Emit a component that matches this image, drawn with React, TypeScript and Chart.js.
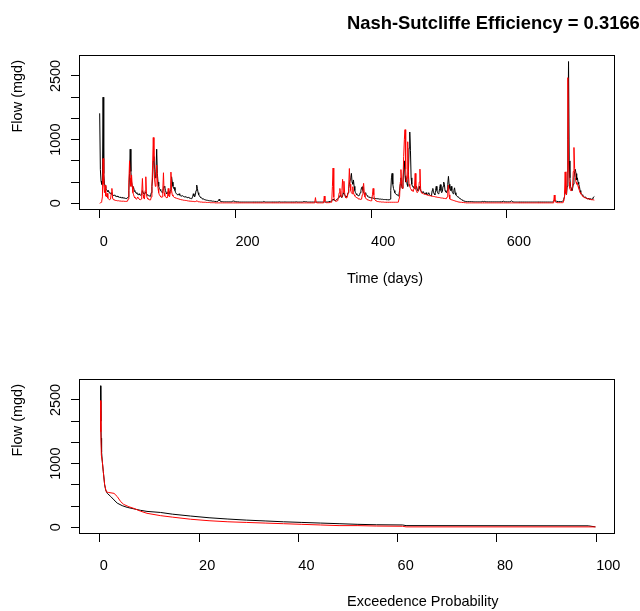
import React, { useEffect, useRef } from "react";
import { Chart, registerables } from "chart.js";

Chart.register(...registerables);

const FONT_FAMILY = "'Liberation Sans', Arial, Helvetica, sans-serif";
const TEXT_SIZE = 14.5;
const TITLE_SIZE = 18.4;

const mainTitle = "Nash-Sutcliffe Efficiency = 0.3166";
const yAxisTitle = "Flow (mgd)";
const timeAxisTitle = "Time (days)";
const probAxisTitle = "Exceedence Probability";

// y axis: evenly spaced tick positions (plot units) and their printed labels
const yTickPositions = [0, 1, 2, 3, 4, 5, 6];
const yTickLabels = ["0", "", "", "1000", "", "", "2500"];
const dayTicks = [0, 200, 400, 600];
const probTicks = [0, 20, 40, 60, 80, 100];

// daily flows (plot units), day 0 .. 729
const observedDaily = [
  4.24,1.6,1.05,0.9,0.85,5.0,1.4,0.95,0.8,0.7,
  0.65,0.6,0.55,0.6,0.5,0.48,0.45,0.5,0.42,0.4,
  0.38,0.36,0.4,0.35,0.33,0.32,0.34,0.3,0.3,0.28,
  0.3,0.27,0.26,0.28,0.25,0.25,0.24,0.26,0.23,0.22,
  0.22,0.25,0.3,0.6,1.4,2.55,1.5,1.0,0.8,0.7,
  0.75,0.6,0.55,0.5,0.5,0.45,0.42,0.4,0.45,0.4,
  0.38,0.4,0.45,0.6,0.5,0.45,0.42,0.5,0.55,0.45,
  0.4,0.38,0.36,0.35,0.34,0.33,0.5,0.8,1.2,2.0,
  2.2,1.6,1.2,1.5,2.55,1.4,1.0,0.8,0.7,0.65,
  0.6,0.55,0.5,0.55,0.7,0.8,0.75,0.6,0.5,0.45,
  0.5,0.55,0.5,0.45,0.6,0.9,1.25,1.0,0.8,0.7,
  0.75,0.6,0.5,0.45,0.42,0.4,0.4,0.45,0.38,0.36,
  0.35,0.34,0.36,0.33,0.32,0.3,0.3,0.32,0.28,0.27,
  0.26,0.3,0.25,0.24,0.23,0.22,0.25,0.3,0.45,0.35,
  0.3,0.4,0.6,0.86,0.7,0.5,0.4,0.35,0.3,0.27,
  0.25,0.22,0.2,0.2,0.18,0.17,0.16,0.15,0.15,0.14,
  0.13,0.13,0.12,0.12,0.11,0.11,0.1,0.1,0.1,0.09,
  0.09,0.09,0.08,0.08,0.08,0.12,0.19,0.12,0.09,0.08,
  0.08,0.08,0.07,0.07,0.07,0.07,0.07,0.07,0.07,0.07,
  0.07,0.07,0.07,0.07,0.07,0.08,0.1,0.11,0.09,0.1,
  0.08,0.07,0.07,0.07,0.07,0.07,0.06,0.06,0.06,0.06,
  0.06,0.06,0.06,0.06,0.06,0.06,0.06,0.06,0.06,0.06,
  0.06,0.06,0.06,0.06,0.06,0.06,0.06,0.06,0.06,0.06,
  0.06,0.06,0.06,0.06,0.06,0.06,0.06,0.06,0.06,0.06,
  0.06,0.07,0.09,0.07,0.06,0.06,0.06,0.06,0.06,0.06,
  0.06,0.06,0.06,0.06,0.06,0.06,0.06,0.06,0.06,0.06,
  0.06,0.06,0.06,0.06,0.06,0.07,0.06,0.06,0.06,0.06,
  0.06,0.06,0.06,0.07,0.06,0.06,0.06,0.06,0.06,0.06,
  0.06,0.06,0.06,0.06,0.06,0.06,0.06,0.06,0.06,0.06,
  0.07,0.06,0.06,0.06,0.06,0.06,0.06,0.06,0.06,0.06,
  0.08,0.07,0.08,0.07,0.08,0.07,0.06,0.06,0.06,0.06,
  0.06,0.06,0.06,0.06,0.06,0.06,0.06,0.06,0.06,0.06,
  0.06,0.06,0.06,0.06,0.06,0.06,0.06,0.06,0.06,0.06,
  0.06,0.07,0.06,0.06,0.06,0.07,0.06,0.07,0.08,0.08,
  0.09,0.1,0.12,0.14,0.2,0.15,0.14,0.13,0.15,0.18,
  0.2,0.22,0.25,0.3,0.35,0.4,0.3,0.28,0.35,0.5,
  0.45,0.4,0.35,0.3,0.32,0.35,0.5,0.7,0.9,1.1,
  1.2,1.41,1.0,0.9,1.1,0.8,0.6,0.5,0.45,0.4,
  0.38,0.36,0.35,0.4,0.5,0.6,0.75,0.78,0.6,0.5,
  0.45,0.42,0.5,0.4,0.36,0.33,0.3,0.3,0.28,0.27,
  0.26,0.25,0.25,0.24,0.24,0.23,0.23,0.22,0.22,0.22,
  0.21,0.21,0.2,0.2,0.2,0.19,0.19,0.19,0.18,0.18,
  0.18,0.18,0.17,0.17,0.17,0.17,0.16,0.16,0.2,0.6,
  1.2,1.41,0.9,0.7,0.6,0.5,0.45,0.42,0.4,0.38,
  0.35,0.4,0.6,0.9,1.2,0.8,0.7,1.0,1.6,2.0,
  1.3,1.0,1.2,0.9,0.8,1.5,2.6,3.36,2.5,1.2,
  0.9,0.8,0.75,0.8,0.7,0.68,0.7,0.8,0.65,0.6,
  0.6,0.8,0.7,0.6,0.55,0.52,0.5,0.55,0.48,0.45,
  0.45,0.5,0.42,0.4,0.45,0.5,0.4,0.38,0.36,0.35,
  0.6,0.7,0.5,0.45,0.4,0.6,0.8,0.6,0.5,0.45,
  0.5,0.7,0.88,0.6,0.5,0.55,0.8,1.0,0.9,0.6,
  0.55,0.5,0.6,0.9,1.27,0.9,0.7,0.6,0.8,0.6,
  0.5,0.45,0.6,0.73,0.5,0.4,0.35,0.32,0.3,0.27,
  0.25,0.23,0.2,0.18,0.16,0.14,0.12,0.11,0.1,0.09,
  0.08,0.08,0.08,0.08,0.08,0.08,0.08,0.08,0.08,0.08,
  0.07,0.07,0.07,0.07,0.07,0.07,0.07,0.07,0.07,0.07,
  0.07,0.07,0.07,0.08,0.09,0.08,0.07,0.09,0.08,0.07,
  0.07,0.07,0.07,0.07,0.07,0.07,0.07,0.07,0.07,0.07,
  0.07,0.07,0.07,0.07,0.07,0.07,0.07,0.07,0.07,0.07,
  0.07,0.07,0.07,0.07,0.07,0.1,0.08,0.07,0.07,0.07,
  0.07,0.07,0.07,0.07,0.07,0.07,0.07,0.12,0.08,0.07,
  0.06,0.06,0.06,0.06,0.06,0.06,0.06,0.06,0.06,0.06,
  0.06,0.06,0.06,0.06,0.06,0.06,0.06,0.06,0.06,0.06,
  0.06,0.06,0.06,0.06,0.06,0.06,0.06,0.06,0.06,0.06,
  0.06,0.06,0.06,0.06,0.06,0.06,0.06,0.06,0.06,0.06,
  0.06,0.06,0.06,0.06,0.06,0.06,0.06,0.06,0.06,0.06,
  0.06,0.06,0.06,0.06,0.06,0.06,0.06,0.06,0.07,0.1,
  0.15,0.12,0.1,0.1,0.09,0.09,0.08,0.08,0.08,0.08,
  0.08,0.09,0.1,0.12,0.2,0.3,0.6,0.5,0.4,0.8,
  3.0,6.68,2.0,1.2,0.8,0.7,0.6,0.7,0.9,1.2,
  1.5,1.6,1.4,1.1,1.2,1.0,0.9,0.8,0.6,0.5,
  0.45,0.4,0.35,0.32,0.3,0.28,0.3,0.25,0.22,0.2,
  0.25,0.2,0.18,0.2,0.22,0.18,0.2,0.25,0.3,0.32,
];

const simulatedDaily = [
  0.0,0.02,0.05,0.1,0.3,2.11,0.9,0.5,0.86,0.35,
  0.3,0.47,0.25,0.2,0.18,0.17,0.2,0.45,0.7,0.25,
  0.18,0.16,0.15,0.14,0.13,0.13,0.12,0.12,0.12,0.11,
  0.11,0.11,0.1,0.1,0.1,0.1,0.1,0.09,0.09,0.09,
  0.09,0.1,0.2,1.0,2.0,1.2,0.8,1.33,0.8,0.5,
  0.4,0.3,0.25,0.22,0.2,0.22,0.3,0.25,0.2,0.18,
  0.17,0.2,0.5,1.17,0.4,0.25,0.2,0.6,1.25,0.4,
  0.25,0.2,0.18,0.17,0.16,0.16,0.3,0.8,1.8,3.1,
  2.0,1.1,0.8,1.0,1.8,1.2,0.7,0.5,0.4,0.35,
  0.3,0.28,0.3,0.6,1.44,0.5,0.35,0.3,0.28,0.25,
  0.3,0.7,0.35,0.3,0.5,1.47,0.6,0.4,0.35,0.3,
  0.28,0.26,0.25,0.24,0.23,0.22,0.21,0.2,0.19,0.18,
  0.17,0.17,0.16,0.15,0.15,0.14,0.14,0.13,0.13,0.12,
  0.12,0.11,0.11,0.1,0.1,0.1,0.09,0.09,0.09,0.08,
  0.08,0.08,0.1,0.12,0.1,0.08,0.07,0.07,0.06,0.06,
  0.06,0.06,0.05,0.05,0.05,0.05,0.05,0.04,0.04,0.04,
  0.04,0.04,0.04,0.03,0.03,0.03,0.03,0.03,0.03,0.03,
  0.02,0.02,0.02,0.02,0.02,0.02,0.02,0.02,0.02,0.02,
  0.02,0.02,0.02,0.02,0.02,0.02,0.02,0.02,0.02,0.02,
  0.02,0.02,0.02,0.02,0.02,0.02,0.02,0.02,0.02,0.02,
  0.02,0.02,0.02,0.02,0.02,0.02,0.02,0.02,0.02,0.02,
  0.02,0.02,0.02,0.02,0.02,0.02,0.02,0.02,0.02,0.02,
  0.02,0.02,0.02,0.02,0.02,0.02,0.02,0.02,0.02,0.02,
  0.02,0.02,0.02,0.02,0.02,0.02,0.02,0.02,0.02,0.02,
  0.02,0.02,0.02,0.02,0.02,0.02,0.02,0.02,0.02,0.02,
  0.02,0.02,0.02,0.02,0.02,0.02,0.02,0.02,0.02,0.02,
  0.02,0.02,0.02,0.02,0.02,0.02,0.02,0.02,0.02,0.02,
  0.02,0.02,0.02,0.02,0.02,0.02,0.02,0.02,0.02,0.02,
  0.02,0.02,0.02,0.02,0.02,0.02,0.02,0.02,0.02,0.02,
  0.02,0.02,0.02,0.02,0.02,0.02,0.02,0.02,0.02,0.02,
  0.02,0.02,0.02,0.02,0.02,0.02,0.02,0.02,0.02,0.02,
  0.02,0.02,0.02,0.02,0.02,0.02,0.02,0.05,0.27,0.05,
  0.02,0.02,0.02,0.02,0.02,0.02,0.02,0.02,0.02,0.02,
  0.02,0.34,0.1,0.04,0.03,0.03,0.03,0.03,0.03,0.03,
  0.04,0.05,0.06,0.8,1.66,0.3,0.15,0.12,0.1,0.1,
  0.12,0.15,0.3,0.5,0.7,0.4,0.3,0.6,1.13,0.5,
  1.04,0.5,0.3,0.25,0.25,0.3,0.5,0.8,1.64,0.9,
  0.6,0.5,0.45,0.78,0.5,0.4,0.35,0.3,0.28,0.26,
  0.24,0.22,0.2,0.2,0.19,0.18,0.2,0.4,0.7,0.94,
  0.5,0.3,0.25,0.2,0.18,0.16,0.15,0.14,0.13,0.12,
  0.12,0.2,0.4,0.7,0.4,0.2,0.15,0.12,0.1,0.09,
  0.08,0.08,0.07,0.07,0.07,0.06,0.06,0.06,0.06,0.06,
  0.05,0.05,0.05,0.05,0.05,0.05,0.05,0.05,0.05,0.05,
  0.05,0.05,0.05,0.05,0.05,0.05,0.05,0.05,0.05,0.05,
  0.05,0.05,0.3,1.0,1.59,0.9,0.7,1.0,2.2,3.0,
  3.47,1.6,1.0,1.2,2.9,1.4,0.9,0.8,0.7,0.65,
  0.6,0.6,0.55,0.55,0.8,1.41,0.7,0.55,0.5,0.5,
  0.6,1.0,1.61,0.7,0.5,0.48,0.46,0.45,0.44,0.43,
  0.42,0.41,0.4,0.39,0.38,0.37,0.36,0.36,0.35,0.34,
  0.34,0.33,0.32,0.32,0.31,0.3,0.3,0.29,0.28,0.28,
  0.27,0.27,0.26,0.26,0.25,0.25,0.24,0.24,0.23,0.23,
  0.22,0.22,0.3,0.6,0.86,0.4,0.2,0.18,0.17,0.16,
  0.15,0.14,0.13,0.12,0.11,0.1,0.09,0.08,0.07,0.06,
  0.06,0.05,0.05,0.05,0.04,0.04,0.04,0.03,0.03,0.03,
  0.02,0.02,0.02,0.02,0.02,0.02,0.02,0.02,0.02,0.02,
  0.02,0.02,0.02,0.02,0.02,0.02,0.02,0.02,0.02,0.02,
  0.02,0.02,0.02,0.02,0.02,0.02,0.02,0.02,0.02,0.02,
  0.02,0.02,0.02,0.02,0.02,0.02,0.02,0.02,0.02,0.02,
  0.02,0.02,0.02,0.02,0.02,0.02,0.02,0.02,0.02,0.02,
  0.02,0.02,0.02,0.02,0.02,0.02,0.02,0.02,0.02,0.02,
  0.02,0.02,0.02,0.02,0.02,0.02,0.02,0.02,0.02,0.02,
  0.02,0.02,0.02,0.02,0.02,0.02,0.02,0.02,0.02,0.02,
  0.02,0.02,0.02,0.02,0.02,0.02,0.02,0.02,0.02,0.02,
  0.02,0.02,0.02,0.02,0.02,0.02,0.02,0.02,0.02,0.02,
  0.02,0.02,0.02,0.02,0.02,0.02,0.02,0.02,0.02,0.02,
  0.02,0.02,0.02,0.02,0.02,0.02,0.02,0.02,0.02,0.02,
  0.02,0.02,0.02,0.02,0.02,0.02,0.02,0.02,0.02,0.02,
  0.39,0.1,0.05,0.04,0.03,0.03,0.03,0.03,0.03,0.03,
  0.03,0.03,0.03,0.03,0.03,0.3,1.48,0.5,0.4,1.5,
  5.92,2.0,1.0,0.7,0.6,0.6,0.65,0.8,1.5,2.63,
  1.64,1.2,1.0,0.9,0.95,0.8,0.7,0.6,0.5,0.45,
  0.4,0.36,0.33,0.3,0.28,0.26,0.25,0.24,0.23,0.22,
  0.21,0.2,0.19,0.18,0.18,0.17,0.17,0.16,0.16,0.15,
];

// flow duration curves (exceedance %, plot units)
const obsExceedance = [0.14,0.2,0.27,0.35,0.5,0.7,0.97,1.17,1.5,2.2,2.85,3.5,4.5,5.5,6.85,8.2,9.5,12.2,14.6,18.3,22,25.8,29.5,33.3,37,40.7,44.5,48.2,52,55.7,61,61.7,98.4,99.86];
const obsFlowSorted = [6.67,5.0,4.2,3.55,3.08,2.62,2.0,1.76,1.6,1.45,1.29,1.14,1.02,0.94,0.87,0.8,0.75,0.7,0.62,0.53,0.45,0.39,0.34,0.3,0.26,0.23,0.2,0.17,0.14,0.12,0.11,0.08,0.07,0.02];
const simExceedance = [0.14,0.2,0.3,0.5,0.7,0.97,1.3,1.8,2.85,3.5,4.2,4.8,5.85,6.85,8.2,9.5,12.2,14.6,18.3,22,25.8,29.5,33.3,37,40.7,44.5,48.2,52,55.7,61,61.7,99.86];
const simFlowSorted = [5.97,4.5,3.4,3.1,2.6,2.0,1.67,1.64,1.6,1.45,1.21,1.08,0.97,0.89,0.76,0.66,0.55,0.48,0.38,0.31,0.26,0.23,0.2,0.17,0.14,0.11,0.08,0.08,0.06,0.05,0.02,0.02];

const rTextPlugin = {
  id: "rText",
  afterDraw(chart: any, _args: any, opts: any) {
    const { ctx, chartArea } = chart;
    const l = Math.round(chartArea.left);
    const r = Math.round(chartArea.right);
    const t = Math.round(chartArea.top);
    const b = Math.round(chartArea.bottom);
    const cx = (chartArea.left + chartArea.right) / 2;
    ctx.save();
    ctx.strokeStyle = "#000";
    ctx.lineWidth = 1;
    ctx.strokeRect(l - 0.5, t - 0.5, r - l + 1, b - t + 1);
    ctx.fillStyle = "#000";
    ctx.textAlign = "left";
    ctx.textBaseline = "alphabetic";
    ctx.font = `${TEXT_SIZE}px ${FONT_FAMILY}`;
    if (opts.xTitle) ctx.fillText(opts.xTitle, cx, chartArea.bottom + opts.xTitleOffset);
    if (opts.yTitle) {
      ctx.save();
      ctx.translate(opts.yTitleX, (chartArea.top + chartArea.bottom) / 2);
      ctx.rotate(-Math.PI / 2);
      ctx.fillText(opts.yTitle, 0, 0);
      ctx.restore();
    }
    if (opts.mainTitle) {
      ctx.font = `bold ${TITLE_SIZE}px ${FONT_FAMILY}`;
      ctx.fillText(opts.mainTitle, cx, opts.mainTitleY);
    }
    ctx.restore();
  },
};

function gridOpts() {
  return { display: true, drawOnChartArea: false, drawTicks: true, tickLength: 9, color: "#000", lineWidth: 1 };
}

function makeConfig(opts: {
  series: { data: { x: number; y: number }[]; color: string }[];
  xMin: number; xMax: number; xTicks: number[];
  padTop: number; xAxisHeight: number;
  xTitle: string; xTitleOffset: number; mainTitle?: string;
}) {
  const font = { family: FONT_FAMILY, size: TEXT_SIZE };
  return {
    type: "line" as const,
    data: {
      datasets: opts.series.map((s) => ({
        data: s.data,
        borderColor: s.color,
        borderWidth: 1,
        pointRadius: 0,
        tension: 0,
        fill: false,
      })),
    },
    options: {
      animation: false,
      responsive: false,
      devicePixelRatio: 1,
      layout: { padding: { top: opts.padTop, right: 26, left: 0, bottom: 0 } },
      plugins: {
        legend: { display: false },
        tooltip: { enabled: false },
        rText: {
          xTitle: opts.xTitle,
          xTitleOffset: opts.xTitleOffset,
          yTitle: yAxisTitle,
          yTitleX: 22,
          mainTitle: opts.mainTitle,
          mainTitleY: 28.5,
        },
      },
      scales: {
        x: {
          type: "linear",
          min: opts.xMin,
          max: opts.xMax,
          afterBuildTicks: (s: any) => { s.ticks = opts.xTicks.map((v) => ({ value: v })); },
          afterFit: (s: any) => { s.height = opts.xAxisHeight; },
          grid: gridOpts(),
          border: { display: false },
          ticks: {
            autoSkip: false, maxRotation: 0, minRotation: 0, align: "start",
            padding: 15.5, color: "#000", font,
            callback: (v: any) => String(v),
          },
        },
        y: {
          type: "linear",
          min: -0.268,
          max: 6.94,
          afterBuildTicks: (s: any) => { s.ticks = yTickPositions.map((v) => ({ value: v })); },
          afterFit: (s: any) => { s.width = 80; },
          grid: gridOpts(),
          border: { display: false },
          ticks: {
            autoSkip: false, minRotation: 90, maxRotation: 90, crossAlign: "center",
            padding: -1.4, color: "#000", font,
            callback: (_v: any, i: number) => yTickLabels[i] ?? "",
          },
        },
      },
    },
    plugins: [rTextPlugin],
  };
}

export default function App() {
  const topRef = useRef<HTMLCanvasElement>(null);
  const bottomRef = useRef<HTMLCanvasElement>(null);

  useEffect(() => {
    const obs = observedDaily.map((y, i) => ({ x: i, y }));
    const sim = simulatedDaily.map((y, i) => ({ x: i, y }));
    const fdcObs = obsExceedance.map((x, i) => ({ x, y: obsFlowSorted[i] }));
    const fdcSim = simExceedance.map((x, i) => ({ x, y: simFlowSorted[i] }));

    const top = new Chart(topRef.current as HTMLCanvasElement, makeConfig({
      series: [{ data: sim, color: "#FF0000" }, { data: obs, color: "#000000" }],
      xMin: -29, xMax: 758, xTicks: dayTicks,
      padTop: 56, xAxisHeight: 96,
      xTitle: timeAxisTitle, xTitleOffset: 74.3, mainTitle,
    }) as any);
    const bottom = new Chart(bottomRef.current as HTMLCanvasElement, makeConfig({
      series: [{ data: fdcSim, color: "#FF0000" }, { data: fdcObs, color: "#000000" }],
      xMin: -4, xMax: 103.6, xTicks: probTicks,
      padTop: 75, xAxisHeight: 78,
      xTitle: probAxisTitle, xTitleOffset: 73,
    }) as any);
    return () => { top.destroy(); bottom.destroy(); };
  }, []);

  return (
    <div style={{ position: "absolute", left: 0, top: 0, width: 640, height: 611, background: "#fff" }}>
      <canvas ref={topRef} width={640} height={305} style={{ position: "absolute", left: 0, top: 0 }} />
      <canvas ref={bottomRef} width={640} height={306} style={{ position: "absolute", left: 0, top: 305 }} />
    </div>
  );
}
